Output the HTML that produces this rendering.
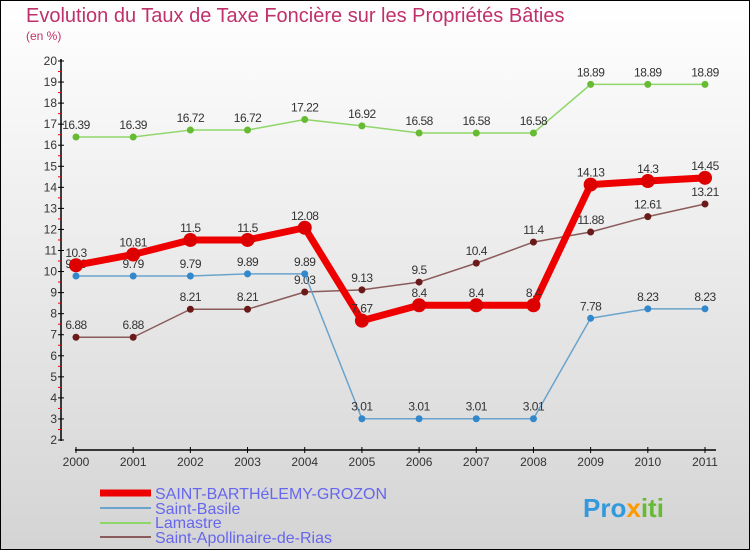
<!DOCTYPE html>
<html><head><meta charset="utf-8"><style>
body{margin:0}
svg{display:block}
text{font-family:"Liberation Sans",sans-serif}
</style></head><body>
<svg id="c" width="750" height="550" xmlns="http://www.w3.org/2000/svg">
<defs><linearGradient id="bg" x1="0" y1="0" x2="0" y2="1"><stop offset="0" stop-color="#ffffff"/><stop offset="1" stop-color="#d4d4d4"/></linearGradient></defs>
<rect x="0.5" y="0.5" width="749" height="549" fill="url(#bg)" stroke="#000"/>
<text x="26" y="22" font-size="20" fill="#c0306a">Evolution du Taux de Taxe Foncière sur les Propriétés Bâties</text>
<text x="26" y="40" font-size="12" fill="#c0306a">(en %)</text>
<g id="axes"></g><g id="series"></g>
<g>
<line x1="100" y1="493" x2="151" y2="493" stroke="#ee0000" stroke-width="7"/>
<text x="155" y="499" font-size="16" fill="#6666ee">SAINT-BARTHéLEMY-GROZON</text>
<line x1="100" y1="508" x2="151" y2="508" stroke="#6ba3cc" stroke-width="2"/>
<text x="155" y="514" font-size="16" fill="#6666ee">Saint-Basile</text>
<line x1="100" y1="523" x2="151" y2="523" stroke="#8fd66a" stroke-width="2"/>
<text x="155" y="528" font-size="16" fill="#6666ee">Lamastre</text>
<line x1="100" y1="537" x2="151" y2="537" stroke="#8b5a5a" stroke-width="2"/>
<text x="155" y="543" font-size="16" fill="#6666ee">Saint-Apollinaire-de-Rias</text>
</g>
<text x="583" y="517" font-size="26" font-weight="bold" fill="#3399dd">Pro<tspan fill="#ff9900">x</tspan><tspan fill="#66bb33">iti</tspan></text>
</svg>
<script>
const years=[2000,2001,2002,2003,2004,2005,2006,2007,2008,2009,2010,2011];
const yTicks=[2,3,4,5,6,7,8,9,10,11,12,13,14,15,16,17,18,19,20];
const sBarth=[10.3,10.81,11.5,11.5,12.08,7.67,8.4,8.4,8.4,14.13,14.3,14.45];
const sBasile=[9.79,9.79,9.79,9.89,9.89,3.01,3.01,3.01,3.01,7.78,8.23,8.23];
const sLamastre=[16.39,16.39,16.72,16.72,17.22,16.92,16.58,16.58,16.58,18.89,18.89,18.89];
const sApol=[6.88,6.88,8.21,8.21,9.03,9.13,9.5,10.4,11.4,11.88,12.61,13.21];
const NS="http://www.w3.org/2000/svg";
const X=i=>76+i*(705-76)/(years.length-1);
const Y=v=>440-(v-2)*(440-61)/18;
function mk(t,a,p){const e=document.createElementNS(NS,t);for(const k in a)e.setAttribute(k,a[k]);p.appendChild(e);return e;}
const ax=document.getElementById('axes');
let l=mk('line',{x1:61,y1:59,x2:61,y2:441,stroke:'#000','stroke-width':1.5},ax);


yTicks.forEach(v=>{
 let t=mk('line',{x1:58,y1:Y(v),x2:64,y2:Y(v),stroke:'#000'},ax);
 
 
 if(v<20){let r=mk('line',{x1:58,y1:Y(v+0.5),x2:61,y2:Y(v+0.5),stroke:'#e00'},ax);
 
 }
 let tx=mk('text',{x:57,y:Y(v)+4,'font-size':12,fill:'#333','text-anchor':'end'},ax);tx.textContent=v;
 
 
});
l=mk('line',{x1:75,y1:450,x2:716,y2:450,stroke:'#000','stroke-width':1.5},ax);


years.forEach((y,i)=>{
 let t=mk('line',{x1:X(i),y1:447,x2:X(i),y2:453,stroke:'#000'},ax);
 
 
 let tx=mk('text',{x:X(i),y:466,'font-size':12,fill:'#333','text-anchor':'middle'},ax);tx.textContent=y;
 
 
});
const sg=document.getElementById('series');
function series(vals,color,dot,w,r,name){
 const g=mk('g',{},sg);
 
 
 let p=mk('polyline',{points:vals.map((v,i)=>X(i)+','+Y(v)).join(' '),fill:'none',stroke:color,'stroke-width':w,'stroke-linejoin':'round'},g);
 
 
 vals.forEach((v,i)=>{
  let c=mk('circle',{cx:X(i),cy:Y(v),r:r,fill:dot},g);
  
  
  let t=mk('text',{x:X(i),y:Y(v)-8,'font-size':12,fill:'#333','text-anchor':'middle','letter-spacing':'-0.5'},g);t.textContent=v;
  
  
 });
}
series(sLamastre,'#8fd66a','#66bb33',1.5,3.5,'series-lamastre');
series(sApol,'#8b5a5a','#6b1a1a',1.5,3.5,'series-saint-apollinaire');
series(sBasile,'#6ba3cc','#3388cc',1.5,3.5,'series-saint-basile');
series(sBarth,'#ee0000','#dd0000',7,7,'series-saint-barthelemy');
</script>
</body></html>
